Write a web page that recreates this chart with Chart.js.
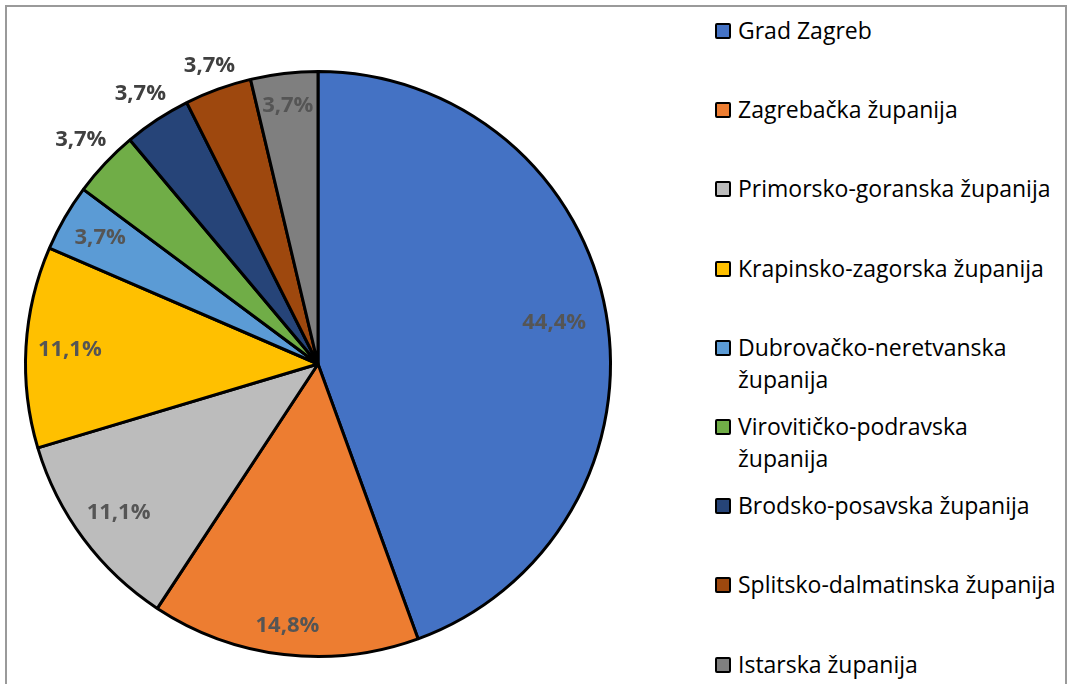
<!DOCTYPE html>
<html>
<head>
<meta charset="utf-8">
<script src="https://cdn.jsdelivr.net/npm/chart.js@4/dist/chart.umd.min.js"></script>
<style>
  html, body { margin: 0; padding: 0; background: #fff; }
  body { width: 1069px; height: 684px; position: relative; overflow: hidden; }
  #frame { position: absolute; left: 5px; top: 5px; width: 1058px; height: 700px; border: 2px solid #9a9a9a; }
  #wrap { position: absolute; left: 0; top: 0; width: 680px; height: 684px; }
  #legend { position: absolute; left: 714px; top: 0; font-family: 'Open Sans', sans-serif; font-size: 23px; color: #000; }
  .item { position: absolute; left: 0; width: 347px; line-height: 32px; padding-left: 24px; box-sizing: border-box; }
  .box { position: absolute; left: 1px; top: 9px; width: 12px; height: 12px; border: 2.5px solid #000; border-radius: 2px; }
</style>
</head>
<body>
<div id="frame"></div>
<div id="wrap"><canvas id="chartZupanije"></canvas></div>
<div id="legend"></div>
<script>
const zupanije = ['Grad Zagreb', 'Zagrebačka županija', 'Primorsko-goranska županija', 'Krapinsko-zagorska županija',
   'Dubrovačko-neretvanska županija', 'Virovitičko-podravska županija', 'Brodsko-posavska županija',
   'Splitsko-dalmatinska županija', 'Istarska županija'];
const broj = [12, 4, 3, 3, 1, 1, 1, 1, 1];
const boje = ['#4472C4', '#ED7D31', '#BCBCBC', '#FFC000', '#5B9BD5', '#70AD47', '#264478', '#9E480E', '#7F7F7F'];
// how far out the % label sits, as a share of the radius
const labelRadius = [0.82, 0.9, 0.85, 0.85, 0.86, 1.115, 1.105, 1.085, 0.89];

const ukupno = broj.reduce((a, b) => a + b, 0);
const postotak = v => (v / ukupno * 100).toFixed(1).replace('.', ',') + '%';

const labelPlugin = {
   id: 'pieLabels',
   afterDatasetsDraw(chart) {
      const ctx = chart.ctx;
      const meta = chart.getDatasetMeta(0);
      ctx.save();
      ctx.font = "bold 22px 'Open Sans'";
      ctx.textAlign = 'center';
      ctx.textBaseline = 'middle';
      meta.data.forEach((arc, i) => {
         const p = arc.getProps(['x', 'y', 'startAngle', 'endAngle', 'outerRadius'], true);
         const mid = (p.startAngle + p.endAngle) / 2;
         const r = p.outerRadius * labelRadius[i];
         ctx.fillStyle = labelRadius[i] > 1 ? '#404040' : '#555555';
         ctx.fillText(postotak(broj[i]), p.x + Math.cos(mid) * r, p.y + Math.sin(mid) * r);
      });
      ctx.restore();
   }
};

const ctx = document.getElementById('chartZupanije').getContext('2d');
const chartZupanije = new Chart(ctx, {
   type: 'pie',
   data: {
      labels: zupanije,
      datasets: [{
         data: broj,
         backgroundColor: boje,
         borderColor: '#000',
         borderWidth: 3,
      }]
   },
   options: {
      responsive: true,
      maintainAspectRatio: false,
      animation: false,
      layout: { padding: { left: 24, right: 68, top: 70, bottom: 26 } },
      plugins: {
         legend: { display: false },
         tooltip: { enabled: false },
      },
   },
   plugins: [labelPlugin]
});

// legend on the right, one slot every 79px
const legend = document.getElementById('legend');
zupanije.forEach((naziv, i) => {
   const item = document.createElement('div');
   item.className = 'item';
   item.style.top = (14 + i * 79.2) + 'px';
   const box = document.createElement('span');
   box.className = 'box';
   box.style.background = boje[i];
   item.appendChild(box);
   item.appendChild(document.createTextNode(naziv));
   legend.appendChild(item);
});
</script>
</body>
</html>
